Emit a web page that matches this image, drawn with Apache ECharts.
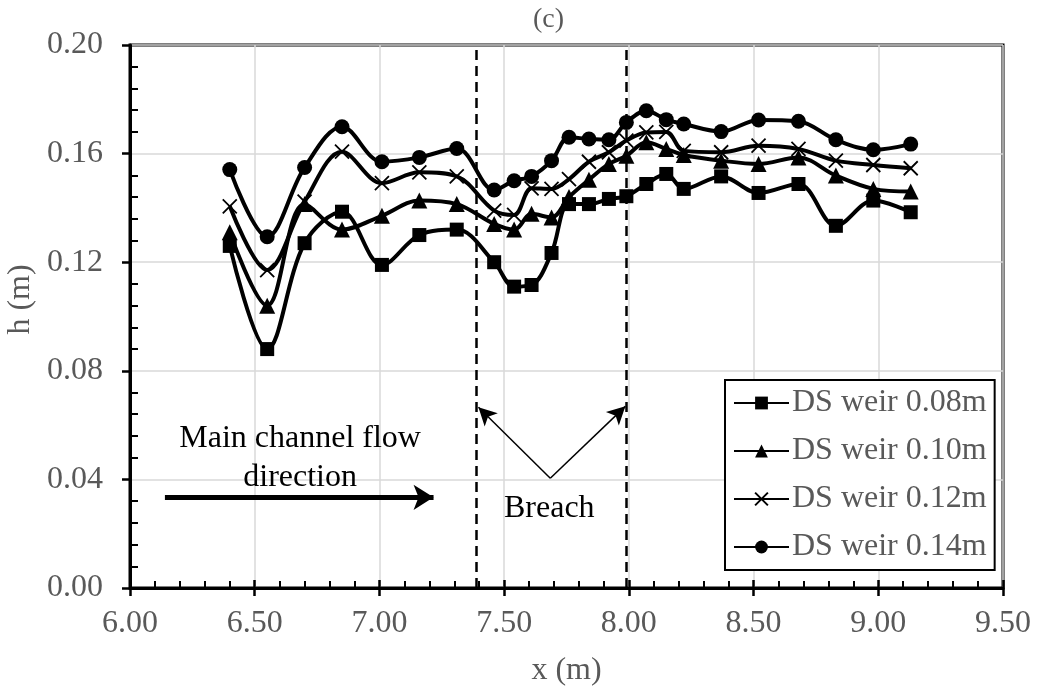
<!DOCTYPE html>
<html>
<head>
<meta charset="utf-8">
<script src="https://cdn.jsdelivr.net/npm/echarts@6/dist/echarts.min.js"></script>
<style>
  html, body { margin: 0; padding: 0; background: #fff; }
  #main { width: 1037px; height: 692px; }
</style>
</head>
<body>
<div id="main"></div>
<script>
// x positions (m) along the channel
var xs = [6.40, 6.55, 6.70, 6.85, 7.01, 7.16, 7.31, 7.46, 7.54, 7.61, 7.69, 7.76,
          7.84, 7.92, 7.99, 8.07, 8.15, 8.22, 8.37, 8.52, 8.68, 8.83, 8.98, 9.13];
// water depth h (m) for each downstream weir height
var h008 = [0.126, 0.088, 0.127, 0.1386, 0.119, 0.130, 0.132, 0.120, 0.111, 0.1116, 0.1234, 0.1414,
            0.1414, 0.1433, 0.1443, 0.1488, 0.1525, 0.147, 0.1516, 0.1455, 0.1488, 0.1334, 0.1427, 0.1384];
var h010 = [0.131, 0.104, 0.1414, 0.132, 0.1371, 0.1427, 0.1414, 0.1341, 0.132, 0.1378, 0.1365, 0.144,
            0.1504, 0.1562, 0.1592, 0.1642, 0.1617, 0.1595, 0.1574, 0.1562, 0.1586, 0.1519, 0.147, 0.146];
var h012 = [0.1406, 0.1171, 0.1423, 0.1607, 0.1491, 0.1531, 0.1516, 0.139, 0.1374, 0.1472, 0.147, 0.1506,
            0.157, 0.1605, 0.1648, 0.1678, 0.168, 0.161, 0.1605, 0.1629, 0.1617, 0.1574, 0.1558, 0.1546];
var h014 = [0.1541, 0.1294, 0.1549, 0.1699, 0.157, 0.1586, 0.1619, 0.1466, 0.150, 0.1516, 0.1574, 0.166,
            0.1654, 0.1651, 0.1715, 0.1758, 0.1725, 0.1709, 0.1681, 0.1724, 0.1719, 0.1651, 0.1614, 0.1635];
var names = ['DS weir 0.08m', 'DS weir 0.10m', 'DS weir 0.12m', 'DS weir 0.14m'];
var xTicks = [6.0, 6.5, 7.0, 7.5, 8.0, 8.5, 9.0, 9.5];
var yTicks = [0.00, 0.04, 0.08, 0.12, 0.16, 0.20];
// breach edges and annotation anchors (data units)
var breachEdges = [7.39, 7.99];
var flowArrow = [[6.14, 0.0334], [7.217, 0.0334]];
var breachArrows = [[[7.685, 0.0404], [7.397, 0.0666]], [[7.685, 0.0404], [7.986, 0.0669]]];
var flowText = [6.682, 0.0478];
var breachText = [7.681, 0.0292];

var FONT = '"Liberation Serif", "Times New Roman", serif';
var GRAY = '#595959';

function pairs(ys) {
    return xs.map(function (x, i) { return [x, ys[i]]; });
}

var chart = echarts.init(document.getElementById('main'));

var crossPath = 'path://M0,0L10,10M10,0L0,10';
var symbols = ['rect', 'triangle', crossPath, 'circle'];
var sizes = [14, 16, 14, 15];
var sets = [h008, h010, h012, h014];

var series = sets.map(function (ys, k) {
    return {
        name: names[k],
        type: 'line',
        data: pairs(ys),
        smooth: 0.35,
        symbol: symbols[k],
        symbolSize: sizes[k],
        showSymbol: true,
        lineStyle: { color: '#000', width: 4 },
        itemStyle: k === 2 ? { color: '#000', borderColor: '#000', borderWidth: 1.8 }
                           : { color: '#000', borderWidth: 0 },
        z: 3
    };
});

// helper series for the dashed breach lines, arrows and notes
series.push({
    name: 'notes',
    type: 'line',
    data: [],
    silent: true,
    markLine: {
        silent: true,
        animation: false,
        label: { show: false },
        symbol: 'none',
        data: [
            { xAxis: breachEdges[0], lineStyle: { type: [10, 6], width: 2.5, color: '#000' } },
            { xAxis: breachEdges[1], lineStyle: { type: [10, 6], width: 2.5, color: '#000' } },
            [
                { coord: flowArrow[0], symbol: 'none' },
                { coord: flowArrow[1], symbol: 'arrow', symbolSize: [19, 20], lineStyle: { type: 'solid', width: 5, color: '#000' } }
            ],
            [
                { coord: breachArrows[0][0], symbol: 'none' },
                { coord: breachArrows[0][1], symbol: 'arrow', symbolSize: [14, 18], lineStyle: { type: 'solid', width: 1.5, color: '#000' } }
            ],
            [
                { coord: breachArrows[1][0], symbol: 'none' },
                { coord: breachArrows[1][1], symbol: 'arrow', symbolSize: [14, 18], lineStyle: { type: 'solid', width: 1.5, color: '#000' } }
            ]
        ]
    },
    markPoint: {
        silent: true,
        symbol: 'rect',
        symbolSize: 1,
        itemStyle: { color: 'rgba(0,0,0,0)' },
        label: {
            show: true, position: 'inside', color: '#000',
            fontFamily: FONT, fontSize: 32, lineHeight: 39
        },
        data: [
            { coord: flowText, value: 'Main channel flow\ndirection', label: { formatter: 'Main channel flow\ndirection' } },
            { coord: breachText, value: 'Breach', label: { formatter: 'Breach' } }
        ]
    }
});

var option = {
    animation: false,
    backgroundColor: '#fff',
    title: {
        text: '(c)', left: 528, top: 1,
        textStyle: { fontFamily: FONT, fontSize: 28, fontWeight: 'normal', color: GRAY }
    },
    grid: {
        left: 130, right: 34, top: 45, bottom: 104,
        outerBoundsMode: 'none', containLabel: false,
        show: true, borderColor: '#000', borderWidth: 3, backgroundColor: 'transparent'
    },
    legend: {
        data: names,
        orient: 'vertical',
        left: 725, top: 380,
        itemWidth: 55, itemHeight: 16, itemGap: 16,
        backgroundColor: '#fff',
        borderColor: '#000', borderWidth: 2,
        padding: [7, 8, 7, 8],
        textStyle: { fontFamily: FONT, fontSize: 32, color: GRAY, padding: [0, 0, 0, -2] }
    },
    xAxis: [{
        type: 'value', min: xTicks[0], max: xTicks[xTicks.length - 1], interval: 0.5,
        name: 'x (m)', nameLocation: 'middle', nameGap: 67,
        nameTextStyle: { fontFamily: FONT, fontSize: 32, color: GRAY },
        axisLine: { show: true, onZero: false, lineStyle: { color: '#000', width: 3 } },
        axisTick: { show: true, length: 8, lineStyle: { color: '#000', width: 2.5 } },
        axisLabel: { fontFamily: FONT, fontSize: 32, color: GRAY, margin: 20,
                     formatter: function (v) { return v.toFixed(2); } },
        splitLine: { show: true, lineStyle: { color: '#d9d9d9', width: 1.5 } }
    }, {
        type: 'value', min: xTicks[0], max: xTicks[xTicks.length - 1], interval: 0.5,
        position: 'bottom', gridIndex: 0,
        axisLine: { show: false },
        axisTick: { show: true, inside: true, length: 8, lineStyle: { color: '#000', width: 2.5 } },
        minorTick: { show: true, splitNumber: 5, length: 7, lineStyle: { color: '#000', width: 2 } },
        axisLabel: { show: false },
        splitLine: { show: false }
    }],
    yAxis: [{
        type: 'value', min: yTicks[0], max: yTicks[yTicks.length - 1], interval: 0.04,
        name: 'h (m)', nameLocation: 'middle', nameGap: 86,
        nameTextStyle: { fontFamily: FONT, fontSize: 32, color: GRAY, padding: [0, 0, 0, 34] },
        axisLine: { show: true, onZero: false, lineStyle: { color: '#000', width: 3 } },
        axisTick: { show: true, length: 8, lineStyle: { color: '#000', width: 2.5 } },
        axisLabel: { fontFamily: FONT, fontSize: 32, color: GRAY, margin: 27,
                     formatter: function (v) { return v.toFixed(2); } },
        splitLine: { show: true, lineStyle: { color: '#d9d9d9', width: 1.5 } }
    }, {
        type: 'value', min: yTicks[0], max: yTicks[yTicks.length - 1], interval: 0.04,
        position: 'left', gridIndex: 0,
        axisLine: { show: false },
        axisTick: { show: false, inside: true },
        minorTick: { show: true, splitNumber: 5, length: 8, lineStyle: { color: '#000', width: 2 } },
        axisLabel: { show: false },
        splitLine: { show: false }
    }],
    series: series
};

option && chart.setOption(option);
</script>
</body>
</html>
